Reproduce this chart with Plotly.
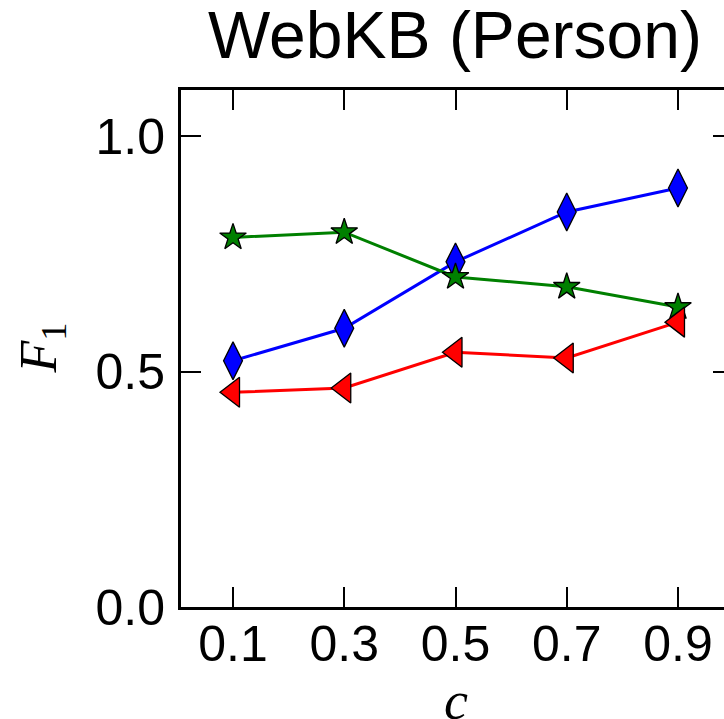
import plotly.graph_objects as go

c_values = [0.1, 0.3, 0.5, 0.7, 0.9]
blue_f1 = [0.523, 0.592, 0.733, 0.839, 0.890]
green_f1 = [0.785, 0.796, 0.701, 0.680, 0.637]
red_f1 = [0.456, 0.465, 0.541, 0.529, 0.605]
x_ticks = [0.1, 0.3, 0.5, 0.7, 0.9]
x_tick_labels = ["0.1", "0.3", "0.5", "0.7", "0.9"]
y_ticks = [0.0, 0.5, 1.0]
y_tick_labels = ["0.0", "0.5", "1.0"]
title_text = "WebKB (Person)"

# body margin removed and overflow hidden -> figure coords = screen coords;
# the figure is slightly wider than the window so the right spine is cut off
W, H = 733, 719
ML, MR, MT, MB = 181, 0, 90, 112
XR = [0.0065, 0.9989]
YR = [0.0, 1.098]

fig = go.Figure()

series = [
    (blue_f1, "#0000ff", "diamond-tall", 27),
    (green_f1, "#008000", "star", 20),
    (red_f1, "#ff0000", "triangle-left", 26),
]
for vals, col, sym, sz in series:
    fig.add_trace(go.Scatter(
        x=c_values, y=vals, mode="lines+markers",
        line=dict(color=col, width=3),
        marker=dict(symbol=sym, size=sz, color=col,
                    line=dict(color="black", width=1.3)),
        showlegend=False, cliponaxis=False,
    ))

tickfont = dict(family="Liberation Sans, Arial, sans-serif", size=50, color="black")

fig.update_layout(
    width=W, height=H,
    margin=dict(l=ML, r=MR, t=MT, b=MB),
    paper_bgcolor="white", plot_bgcolor="white",
    xaxis=dict(
        range=XR, tickvals=x_ticks, ticktext=x_tick_labels,
        ticks="inside", ticklen=20, tickwidth=1.5, tickcolor="black",
        showline=True, linecolor="black", linewidth=3, mirror="ticks",
        showgrid=False, zeroline=False, tickfont=tickfont,
        ticklabelstandoff=-9, automargin=False,
    ),
    yaxis=dict(
        range=YR, tickvals=y_ticks, ticktext=y_tick_labels,
        ticks="inside", ticklen=20, tickwidth=1.5, tickcolor="black",
        showline=True, linecolor="black", linewidth=3, mirror="ticks",
        showgrid=False, zeroline=False, tickfont=tickfont,
        ticklabelstandoff=3, automargin=False,
    ),
    annotations=[
        dict(text=title_text, xref="paper", yref="paper",
             x=(455 - ML) / (W - ML - MR), y=1, xanchor="center", yanchor="bottom",
             yshift=16, showarrow=False,
             font=dict(family="Liberation Sans, Arial, sans-serif", size=66, color="black")),
        dict(text="<i>c</i>", xref="x", yref="paper",
             x=0.5, y=0, xanchor="center", yanchor="middle",
             yshift=-(701 - (H - MB)), showarrow=False,
             font=dict(family="Liberation Serif, DejaVu Serif, serif", size=54, color="black")),
        dict(text="<i>F</i><sub>1</sub>", xref="paper", yref="paper",
             x=0, y=0.5, xanchor="center", yanchor="middle",
             xshift=-(ML - 42), textangle=-90, showarrow=False,
             font=dict(family="Liberation Serif, DejaVu Serif, serif", size=52, color="black")),
    ],
)

fig.write_html(
    "out.html",
    config={"displayModeBar": False},
    post_script="document.body.style.margin='0px';"
                "document.body.style.overflow='hidden';"
                "document.documentElement.style.overflow='hidden';",
)
